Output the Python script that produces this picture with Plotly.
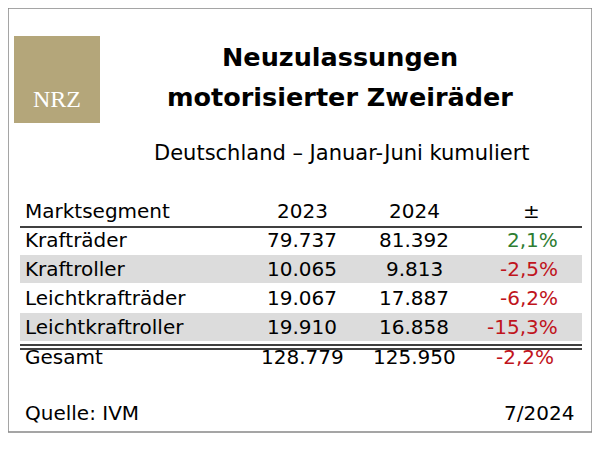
import plotly.graph_objects as go

segments = ["Krafträder", "Kraftroller", "Leichtkrafträder", "Leichtkraftroller"]
v2023 = ["79.737", "10.065", "19.067", "19.910"]
v2024 = ["81.392", "9.813", "17.887", "16.858"]
change = ["2,1%", "-2,5%", "-6,2%", "-15,3%"]
total = ["Gesamt", "128.779", "125.950", "-2,2%"]
headers = ["Marktsegment", "2023", "2024", "±"]

F = "DejaVu Sans"
OFF = 8  # page body margin
fig = go.Figure()
def X(v): return v - OFF
shapes = [
    dict(type="rect", x0=X(8), x1=X(592), y0=X(8), y1=X(432), line=dict(color="#888", width=1.5)),
    dict(type="rect", x0=X(14), x1=X(100), y0=X(36), y1=X(123), fillcolor="#b4a67a", line_width=0),
    dict(type="line", x0=X(20), x1=X(582), y0=X(227), y1=X(227), line=dict(color="black", width=1.5)),
    dict(type="line", x0=X(20), x1=X(582), y0=X(345), y1=X(345), line=dict(color="black", width=1.5)),
    dict(type="line", x0=X(20), x1=X(582), y0=X(349), y1=X(349), line=dict(color="black", width=1.5)),
]
ann = []
def t(x, y, s, size=20, color="black", anchor="left", bold=False, font=F):
    ann.append(dict(x=X(x), y=X(y), text=(f"<b>{s}</b>" if bold else s), showarrow=False,
                    xanchor=anchor, yanchor="middle", font=dict(family=font, size=size, color=color)))

t(57, 99, "NRZ", size=24, color="white", anchor="center", font="Liberation Serif")
t(340, 57, "Neuzulassungen", size=25.5, anchor="center", bold=True)
t(340, 97, "motorisierter Zweiräder", size=25.5, anchor="center", bold=True)
t(342, 153, "Deutschland – Januar-Juni kumuliert", size=21, anchor="center")

t(23, 211, headers[0]); t(302, 211, headers[1], anchor="center")
t(414, 211, headers[2], anchor="center"); t(531, 211, headers[3], anchor="center")
ys = [240, 269, 298, 327]
for i, (s, a, b, c) in enumerate(zip(segments, v2023, v2024, change)):
    if i % 2 == 1:
        shapes.append(dict(type="rect", x0=X(20), x1=X(582), y0=X(ys[i]-14), y1=X(ys[i]+14),
                           fillcolor="#dcdcdc", line_width=0, layer="below"))
    t(23, ys[i], s); t(302, ys[i], a, anchor="center"); t(414, ys[i], b, anchor="center")
    t(560, ys[i], c, anchor="right", color="#2e7d32" if not c.startswith("-") else "#c0141c")
t(23, 357, total[0]); t(302, 357, total[1], anchor="center"); t(414, 357, total[2], anchor="center")
t(556, 357, total[3], anchor="right", color="#c0141c")
t(23, 413, "Quelle: IVM"); t(576, 413, "7/2024", anchor="right")

fig.update_layout(width=592, height=442, margin=dict(l=0, r=0, t=0, b=0),
                  plot_bgcolor="white", paper_bgcolor="white", shapes=shapes, annotations=ann,
                  xaxis=dict(range=[0, 592], visible=False, fixedrange=True),
                  yaxis=dict(range=[442, 0], visible=False, fixedrange=True), showlegend=False)
fig.write_html("out.html")
